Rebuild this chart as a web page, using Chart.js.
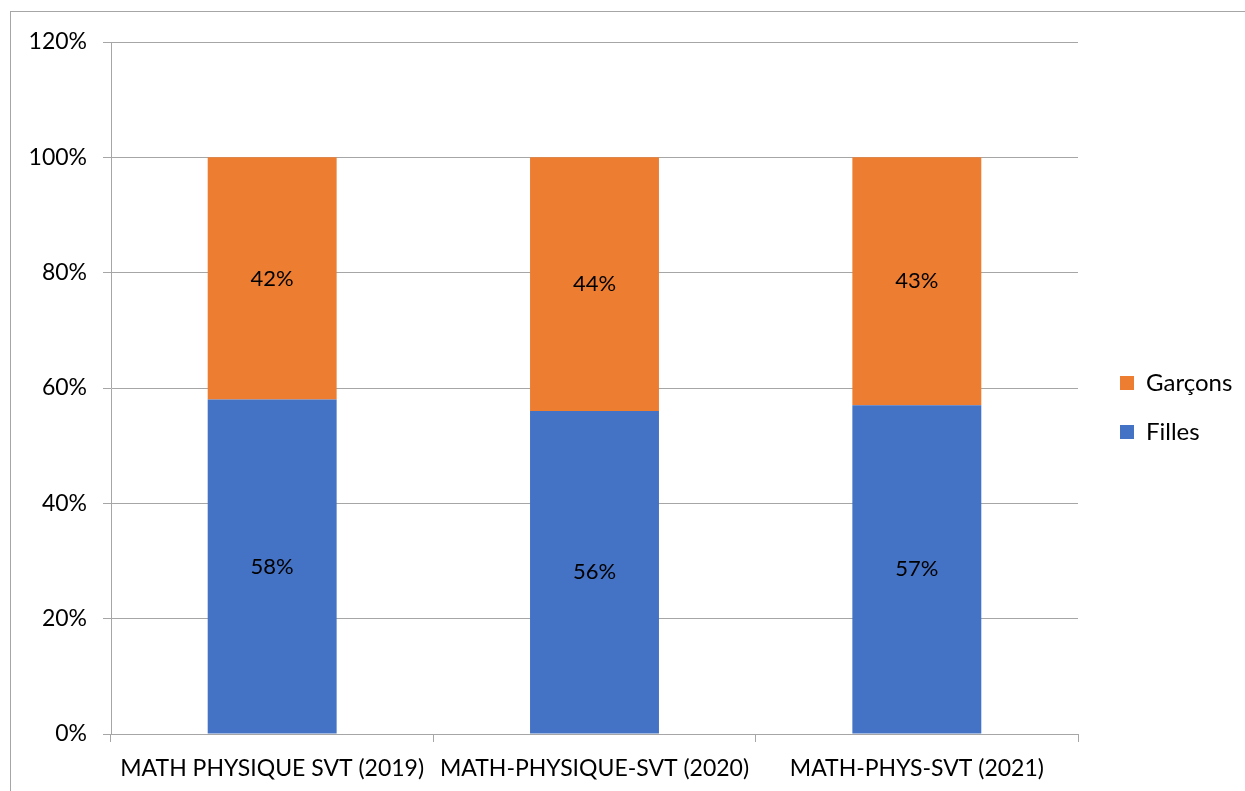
<!DOCTYPE html>
<html><head><meta charset="utf-8">
<script src="https://cdn.jsdelivr.net/npm/chart.js@4.4.1/dist/chart.umd.min.js"></script>
<style>html,body{margin:0;padding:0;background:#fff;}#wrap{width:1245px;height:791px;position:relative;}</style>
</head><body><div id="wrap"><canvas id="c" width="1245" height="791"></canvas></div>
<script>
const categories = ["MATH PHYSIQUE SVT (2019)", "MATH-PHYSIQUE-SVT (2020)", "MATH-PHYS-SVT (2021)"];
const filles = [58, 56, 57];
const garcons = [42, 44, 43];
const yTicks = [0, 20, 40, 60, 80, 100, 120];

const FONT = "Lato, 'Open Sans', sans-serif";
const GRID = '#a6a6a6';

const frame = {
  id: 'frame',
  beforeDraw(chart) {
    const ctx = chart.ctx;
    ctx.save();
    ctx.fillStyle = '#fff';
    ctx.fillRect(0, 0, chart.width, chart.height);
    ctx.strokeStyle = '#a6a6a6';
    ctx.lineWidth = 1;
    ctx.strokeRect(10.5, 11.5, chart.width + 10, chart.height + 10);
    ctx.restore();
  }
};
const legendFix = {
  id: 'legendFix',
  afterInit(chart) {
    const l = chart.legend;
    const orig = l.fit;
    l.fit = function () { orig.call(this); this.width = 167; };
  },
  afterLayout(chart) {
    const l = chart.legend;
    l.left += 17; l.right += 17;
    l.top -= 9; l.bottom -= 9;
  }
};
const labels = {
  id: 'labels',
  afterDatasetsDraw(chart) {
    const ctx = chart.ctx;
    ctx.save();
    ctx.font = '22px ' + FONT;
    ctx.fillStyle = '#000';
    ctx.textAlign = 'center';
    ctx.textBaseline = 'middle';
    chart.data.datasets.forEach((ds, i) => {
      chart.getDatasetMeta(i).data.forEach((bar, j) => {
        const y = (bar.y + bar.base) / 2;
        ctx.fillText(ds.data[j] + '%', bar.x, y);
      });
    });
    ctx.restore();
  }
};

new Chart(document.getElementById('c'), {
  type: 'bar',
  data: {
    labels: categories,
    datasets: [
      { label: 'Filles', data: filles, backgroundColor: '#4472C4', barPercentage: 0.4, categoryPercentage: 1 },
      { label: 'Garçons', data: garcons, backgroundColor: '#ED7D31', barPercentage: 0.4, categoryPercentage: 1 }
    ]
  },
  options: {
    responsive: false,
    animation: false,
    layout: { padding: { top: 42, left: 0, right: 0, bottom: 0 } },
    plugins: {
      tooltip: { enabled: false },
      legend: {
        position: 'right',
        reverse: true,
        labels: { font: { size: 24, family: FONT }, color: '#000', boxWidth: 14, boxHeight: 14, padding: 25 }
      }
    },
    scales: {
      x: {
        stacked: true,
        grid: { drawOnChartArea: false, drawTicks: true, tickLength: 8, color: GRID, offset: true },
        border: { color: GRID },
        ticks: { font: { size: 23, family: FONT }, color: '#000', padding: 13, maxRotation: 0, autoSkip: false },
        afterFit(s) { s.height = 57; }
      },
      y: {
        stacked: true,
        min: 0, max: 120,
        afterBuildTicks(s) { s.ticks = yTicks.map(v => ({ value: v })); },
        grid: { color: GRID, tickLength: 8 },
        border: { color: GRID },
        ticks: { font: { size: 23, family: FONT }, color: '#000', padding: 16, callback: v => v + '%' },
        afterFit(s) { s.width = 111; }
      }
    }
  },
  plugins: [frame, legendFix, labels]
});
</script></body></html>
